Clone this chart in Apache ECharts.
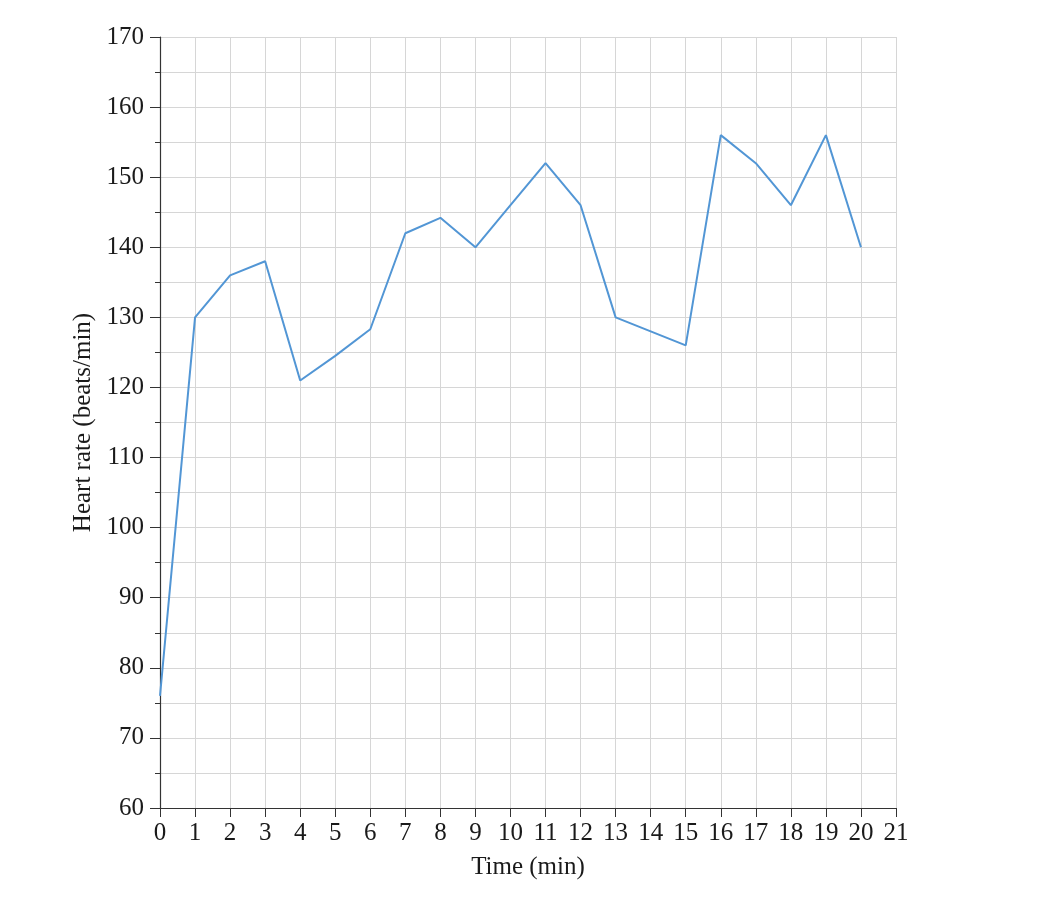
<!DOCTYPE html>
<html>
<head>
<meta charset="utf-8">
<script src="https://cdn.jsdelivr.net/npm/echarts@6/dist/echarts.min.js"></script>
<style>
html,body{margin:0;padding:0;background:#fff;}
#chart{width:1048px;height:916px;}
</style>
</head>
<body>
<div id="chart"></div>
<script>
const timeMin = [0,1,2,3,4,5,6,7,8,9,10,11,12,13,14,15,16,17,18,19,20];
const heartRate = [76,130,136,138,121,124.5,128.3,142,144.2,140,146,152,146,130,128,126,156,152,146,156,140];

const chart = echarts.init(document.getElementById('chart'));
const font = "'Liberation Serif','Times New Roman',serif";
chart.setOption({
  animation:false,
  backgroundColor:'#fff',
  grid:{left:160,right:152,top:37,bottom:108},
  xAxis:{
    type:'value',min:0,max:21,interval:1,
    name:'Time (min)',nameLocation:'middle',nameGap:47,
    nameTextStyle:{fontFamily:font,fontSize:25,color:'#1a1a1a'},
    axisLine:{show:true,lineStyle:{color:'#333',width:1.2}},
    axisTick:{show:true,length:9,lineStyle:{color:'#333'}},
    axisLabel:{fontFamily:font,fontSize:25,color:'#1a1a1a',margin:13},
    splitLine:{show:true,lineStyle:{color:'#d6d6d6',width:1}}
  },
  yAxis:{
    type:'value',min:60,max:170,interval:10,
    name:'Heart rate (beats/min)',nameLocation:'middle',nameGap:60,nameRotate:90,
    nameTextStyle:{fontFamily:font,fontSize:25,color:'#1a1a1a'},
    axisLine:{show:true,lineStyle:{color:'#333',width:1.2}},
    axisTick:{show:true,length:10,lineStyle:{color:'#333'}},
    minorTick:{show:true,splitNumber:2,length:5,lineStyle:{color:'#333'}},
    minorSplitLine:{show:true,lineStyle:{color:'#d6d6d6',width:1}},
    axisLabel:{fontFamily:font,fontSize:25,color:'#1a1a1a',margin:16},
    splitLine:{show:true,lineStyle:{color:'#d6d6d6',width:1}}
  },
  series:[{
    type:'line',
    data:timeMin.map((t,i)=>[t,heartRate[i]]),
    showSymbol:false,
    lineStyle:{color:'#5296d5',width:2},
    itemStyle:{color:'#5296d5'}
  }]
});
</script>
</body>
</html>
